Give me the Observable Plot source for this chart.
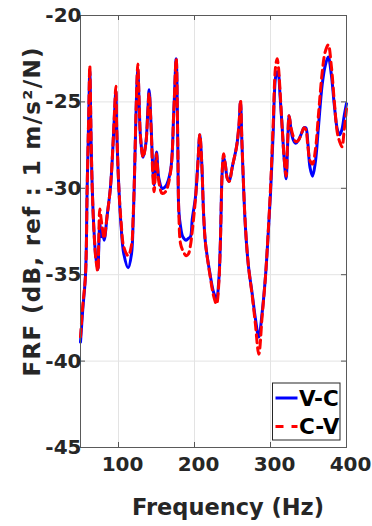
<!DOCTYPE html>
<html>
<head>
<meta charset="utf-8">
<script src="https://cdn.jsdelivr.net/npm/d3@7"></script>
<script src="https://cdn.jsdelivr.net/npm/@observablehq/plot@0.6"></script>
<style>
  html, body { margin: 0; padding: 0; background: #fff; }
  svg { display: block; }
</style>
</head>
<body>
<div id="chart"></div>
<script>
const freqHz = [50, 53, 56.6, 58.8, 61, 62.2, 64, 65.4, 67.5, 70.2, 72.8, 74, 75.4, 77.2, 78.5, 81.1, 85, 89.5, 92.9, 95, 96.5, 97.6, 100.4, 103.5, 107, 112.7, 117.1, 119.3, 121, 122.8, 124.6, 125.4, 127.2, 128.9, 132.4, 136, 138.6, 140.3, 143, 145.1, 146.9, 150, 153, 157.5, 161.8, 168.4, 172.8, 175.9, 178, 179.4, 181.6, 184.6, 189, 192, 194.7, 197, 201.3, 204.5, 207, 209.5, 212, 214.5, 221, 225, 229, 232, 234, 236.5, 238.3, 240.5, 243, 245.6, 250, 255.3, 258.5, 260.5, 262.5, 267, 271, 275.9, 280, 284.6, 289, 293.4, 296.5, 300, 303.5, 306.6, 308.8, 310.5, 312.5, 315.4, 318, 320.6, 322.5, 324.5, 327, 330, 333.3, 337, 341, 344, 346.5, 349, 352, 355.3, 359, 363, 368, 372, 376, 380, 384, 388, 391, 394, 397, 400];
const frfVC = [-38.9, -37.0, -35.0, -29.9, -25.5, -23.2, -27.4, -29.9, -32.25, -34.0, -34.7, -33.5, -32.0, -32.8, -32.4, -33.0, -31.6, -29.9, -27.4, -25.5, -24.35, -26.5, -29.9, -32.25, -33.8, -34.6, -33.8, -31.9, -29.4, -26.1, -23.6, -23.1, -25.1, -27.0, -28.2, -27.4, -25.5, -24.3, -26.5, -28.8, -29.8, -27.9, -29.4, -30.0, -29.9, -29.0, -25.5, -22.5, -27.4, -31.3, -32.2, -32.8, -33.0, -32.9, -32.8, -31.8, -30.5, -28.5, -26.9, -28.5, -31.5, -33.2, -35.1, -36.0, -36.4, -35.3, -33.2, -29.0, -28.2, -28.6, -29.4, -29.6, -28.7, -27.6, -26.4, -25.0, -27.5, -32.25, -34.5, -36.1, -37.5, -38.6, -37.2, -35.1, -33.0, -30.3, -26.8, -23.6, -23.25, -23.4, -24.6, -26.5, -28.3, -29.45, -27.5, -25.8, -26.6, -27.2, -27.4, -27.2, -26.8, -26.5, -26.5, -27.3, -28.8, -29.3, -28.5, -26.5, -24.0, -22.9, -22.4, -23.4, -25.2, -26.6, -26.9, -26.6, -25.8, -25.1];
const frfCV = [-38.6, -36.8, -35.0, -29.9, -25.3, -22.9, -27.2, -29.9, -32.3, -34.1, -34.8, -33.0, -31.2, -31.8, -32.2, -32.9, -31.6, -29.9, -27.3, -25.3, -24.1, -26.4, -29.9, -32.0, -33.4, -33.9, -33.3, -31.6, -29.3, -26.0, -23.4, -22.8, -25.0, -27.0, -28.2, -27.4, -25.6, -24.5, -26.6, -29.2, -30.2, -28.0, -29.6, -30.3, -30.2, -29.1, -25.5, -22.5, -27.4, -31.5, -33.2, -33.6, -33.9, -33.8, -33.3, -32.5, -30.6, -28.5, -26.9, -28.5, -31.5, -33.2, -35.2, -36.2, -36.7, -35.5, -33.2, -29.0, -28.0, -28.6, -29.4, -29.6, -28.7, -27.6, -26.3, -24.9, -27.4, -32.2, -34.5, -36.2, -37.8, -39.6, -37.4, -35.1, -32.9, -30.0, -26.3, -23.0, -22.5, -23.0, -24.3, -26.5, -28.3, -29.3, -27.3, -25.8, -26.5, -27.0, -27.3, -27.2, -26.8, -26.5, -26.6, -27.5, -28.4, -28.6, -27.8, -25.8, -23.3, -22.1, -21.7, -22.9, -25.0, -26.8, -27.3, -27.6, -26.6, -25.4];
const xTicks = [100, 200, 300, 400];
const yTicks = [-45, -40, -35, -30, -25, -20];
const seriesNames = ["V-C", "C-V"];
const xLabel = "Frequency (Hz)";
const yLabel = "FRF (dB, ref : 1 m/s²/N)";

const vcData = freqHz.map((f, i) => ({f, v: frfVC[i]}));
const cvData = freqHz.map((f, i) => ({f, v: frfCV[i]}));

const W = 372, H = 526, mL = 80, mR = 26, mT = 15, mB = 79;
const fw = W - mL - mR, fh = H - mT - mB;
const tk = 5;
const font = "'DejaVu Sans', sans-serif";
const ink = "#262626";

const plot = Plot.plot({
  width: W, height: H,
  marginLeft: mL, marginRight: mR, marginTop: mT, marginBottom: mB,
  style: {fontFamily: font, background: "#fff"},
  x: {domain: [50, 400], ticks: xTicks},
  y: {domain: [-45, -20], ticks: yTicks},
  marks: [
    Plot.gridX(xTicks.filter(d => d < 400), {stroke: "#e3e3e3", strokeOpacity: 1, strokeWidth: 1}),
    Plot.gridY(yTicks.filter(d => d > -45 && d < -20), {stroke: "#e3e3e3", strokeOpacity: 1, strokeWidth: 1}),
    Plot.tickX(xTicks.filter(d => d < 400), {x: d => d, stroke: "#555", insetTop: fh - tk}),
    Plot.tickX(xTicks.filter(d => d < 400), {x: d => d, stroke: "#555", insetBottom: fh - tk}),
    Plot.tickY(yTicks.filter(d => d > -45 && d < -20), {y: d => d, stroke: "#555", insetRight: fw - tk}),
    Plot.tickY(yTicks.filter(d => d > -45 && d < -20), {y: d => d, stroke: "#555", insetLeft: fw - tk}),
    Plot.line(vcData, {x: "f", y: "v", stroke: "#0000ff", strokeWidth: 3, curve: "catmull-rom"}),
    Plot.line(cvData, {x: "f", y: "v", stroke: "#ff0000", strokeWidth: 3, strokeDasharray: "8,5", curve: "catmull-rom"}),
    Plot.frame({stroke: "#5a5a5a", strokeWidth: 1}),
    Plot.axisX(xTicks, {tickSize: 0, tickPadding: 9, fontSize: 20, fontWeight: "bold", fill: ink, label: null, dx: 4, tickFormat: d => String(d)}),
    Plot.axisY(yTicks, {tickSize: 0, tickPadding: -1, fontSize: 20, fontWeight: "bold", fill: ink, label: null, tickFormat: d => String(d)})
  ]
});

const svg = d3.select(plot);
// axis titles
svg.append("text").attr("x", 228).attr("y", 515)
  .attr("text-anchor", "middle").attr("font-family", font).attr("font-size", 22.5)
  .attr("font-weight", "bold").attr("fill", ink).text(xLabel);
svg.append("text").attr("transform", "translate(40,212) rotate(-90)")
  .attr("text-anchor", "middle").attr("font-family", font).attr("font-size", 23)
  .attr("font-weight", "bold").attr("fill", ink)
  .attr("textLength", 329).attr("lengthAdjust", "spacing").text(yLabel);

// legend
const lx = 272.5, ly = 383, lw = 67.5, lh = 57;
const lg = svg.append("g").attr("font-family", font);
lg.append("rect").attr("x", lx).attr("y", ly).attr("width", lw).attr("height", lh)
  .attr("fill", "#fff").attr("stroke", ink).attr("stroke-width", 1);
const legendColors = ["#0000ff", "#ff0000"];
const legendDash = [null, "8,8"];
seriesNames.forEach((name, i) => {
  const yy = ly + 15 + i * 28.5;
  const ln = lg.append("line").attr("x1", lx + 3).attr("x2", lx + 25).attr("y1", yy).attr("y2", yy)
    .attr("stroke", legendColors[i]).attr("stroke-width", 3);
  if (legendDash[i]) ln.attr("stroke-dasharray", legendDash[i]);
  lg.append("text").attr("x", lx + 26.5).attr("y", yy).attr("dy", "0.36em")
    .attr("text-anchor", "start")
    .attr("font-size", 21.5).attr("font-weight", "bold").attr("fill", "#000").text(name);
});

document.getElementById("chart").appendChild(plot);
</script>
</body>
</html>
